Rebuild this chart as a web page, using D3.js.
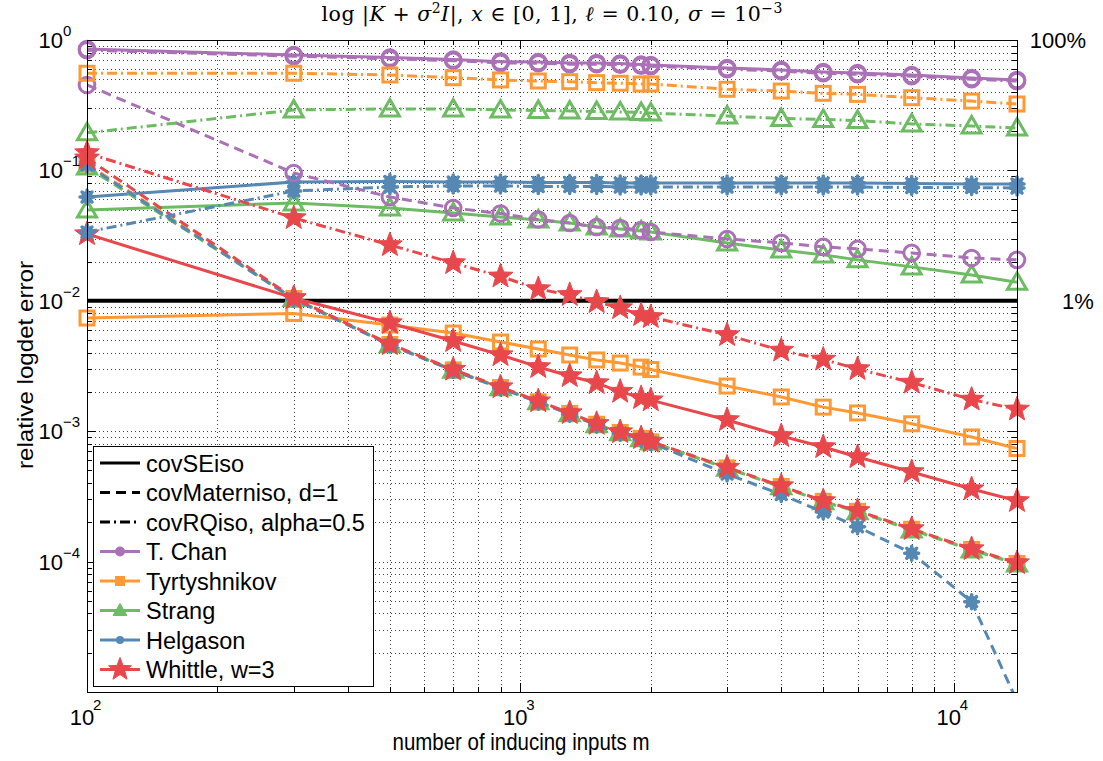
<!DOCTYPE html>
<html><head><meta charset="utf-8">
<script src="https://cdn.jsdelivr.net/npm/d3@7"></script>
<style>body{margin:0;background:#fff}</style>
</head><body>
<svg id="c" width="1103" height="761"></svg>
<script>
// ---------- data ----------
const m = [100,300,500,700,900,1100,1300,1500,1700,1900,2000,3000,4000,5000,6000,8000,11000,14000];
const methods = ["T. Chan","Tyrtyshnikov","Strang","Helgason","Whittle, w=3"];
const kernels = ["covSEiso","covMaterniso, d=1","covRQiso, alpha=0.5"];

const tchanSE  = [0.853,0.767,0.734,0.709,0.682,0.678,0.667,0.667,0.660,0.649,0.643,0.610,0.589,0.568,0.558,0.539,0.511,0.494];
const tchanMat = [0.452,0.0955,0.0625,0.0515,0.0467,0.0420,0.0395,0.0368,0.0362,0.0349,0.0337,0.0298,0.0278,0.0259,0.0250,0.0233,0.0213,0.0206];
const tchanRQ  = [0.835,0.752,0.718,0.694,0.668,0.664,0.652,0.652,0.646,0.635,0.629,0.597,0.577,0.556,0.546,0.528,0.500,0.484];

const tyrtSE  = [0.00738,0.00800,0.00652,0.00566,0.00483,0.00427,0.00384,0.00352,0.00333,0.00310,0.00297,0.00222,0.00183,0.00153,0.00138,0.00114,0.000903,0.000737];
const tyrtMat = [0.112,0.0104,0.00462,0.00295,0.00216,0.00168,0.00137,0.00113,0.000978,0.000880,0.000828,0.000523,0.000377,0.000290,0.000243,0.000177,0.000124,0.0000968];
const tyrtRQ  = [0.556,0.556,0.539,0.514,0.494,0.485,0.479,0.471,0.466,0.460,0.460,0.419,0.406,0.390,0.383,0.361,0.340,0.323];

const strangSE  = [0.0497,0.0562,0.0515,0.0471,0.0439,0.0417,0.0395,0.0368,0.0356,0.0343,0.0337,0.0278,0.0245,0.0225,0.0206,0.0182,0.0158,0.0139];
const strangMat = [0.106,0.0104,0.00460,0.00294,0.00215,0.00168,0.00136,0.00112,0.000975,0.000877,0.000825,0.000520,0.000375,0.000288,0.000241,0.000175,0.000123,0.0000960];
const strangRQ  = [0.194,0.291,0.296,0.296,0.291,0.288,0.286,0.283,0.281,0.278,0.275,0.261,0.250,0.246,0.241,0.227,0.219,0.211];

const helgSE  = [0.0625,0.0815,0.0822,0.0815,0.0815,0.0808,0.0808,0.0808,0.0800,0.0800,0.0800,0.0800,0.0800,0.0800,0.0800,0.0794,0.0787,0.0787];
const helgMat = [0.110,0.0103,0.00458,0.00292,0.00214,0.00167,0.00135,0.00111,0.000965,0.000865,0.000815,0.000470,0.000327,0.000240,0.000185,0.000116,0.0000493,0.0000085];
const helgRQ  = [0.0337,0.0695,0.0746,0.0760,0.0760,0.0753,0.0753,0.0753,0.0746,0.0746,0.0746,0.0746,0.0746,0.0746,0.0746,0.0739,0.0739,0.0733];

const whitSE  = [0.0325,0.0105,0.00676,0.00492,0.00384,0.00311,0.00265,0.00234,0.00201,0.00180,0.00173,0.00122,0.000919,0.000757,0.000634,0.000487,0.000360,0.000292];
const whitMat = [0.124,0.0105,0.00466,0.00297,0.00218,0.00170,0.00138,0.00114,0.000986,0.000887,0.000834,0.000527,0.000380,0.000292,0.000245,0.000178,0.000125,0.0000976];
const whitRQ  = [0.136,0.0432,0.0268,0.0195,0.0154,0.0123,0.0111,0.00980,0.00881,0.00778,0.00752,0.00547,0.00416,0.00355,0.00300,0.00236,0.00175,0.00147];

const seriesByKernel = [
  [tchanSE, tyrtSE, strangSE, helgSE, whitSE],
  [tchanMat, tyrtMat, strangMat, helgMat, whitMat],
  [tchanRQ, tyrtRQ, strangRQ, helgRQ, whitRQ]
];
const xTickLabels = [{v:100,e:"2"},{v:1000,e:"3"},{v:10000,e:"4"}];
const yTickLabels = [{v:1,e:"0"},{v:0.1,e:"\u22121"},{v:0.01,e:"\u22122"},{v:0.001,e:"\u22123"},{v:0.0001,e:"\u22124"}];
const refLevel = 0.01;
const rightLabels = [{v:1,t:"100%"},{v:0.01,t:"1%"}];

// ---------- styles ----------
const colors = ["#ab71b7","#ff9933","#6dbb62","#5688b4","#e8484c"];
const markers = ["circle","square","triangle","helg","star"];
const dashes = [null, "10,6", "10,4,2,4"];
const FONT = "'Liberation Sans', Arial, Helvetica, sans-serif";

// ---------- scales ----------
const svg = d3.select("#c");
const x = d3.scaleLog().domain([100,14000]).range([87,1017]);
const y = d3.scaleLog().domain([1e-5,1]).range([692,40]);
const [X0,X1] = x.range(); const [Y0,Y1] = y.range();

svg.append("rect").attr("width",1103).attr("height",761).attr("fill","#fff");

// grid + ticks
function logTicks(lo, hi){ const t=[]; for(let d=Math.floor(Math.log10(lo)); d<=Math.ceil(Math.log10(hi)); d++){ for(let k=1;k<=9;k++){ const v=k*Math.pow(10,d); if(v>=lo*0.9999 && v<=hi*1.0001) t.push({v, major:k===1}); } } return t; }
const xt = logTicks(100,14000), yt = logTicks(1e-5,1);
const grid = svg.append("g").attr("stroke","#444").attr("stroke-width",1).attr("stroke-dasharray","1,3");
xt.filter(t=>t.v>100.01).forEach(t=>{ const px=Math.round(x(t.v))+0.5; grid.append("line").attr("x1",px).attr("x2",px).attr("y1",Y1).attr("y2",Y0); });
yt.filter(t=>t.v>1.0001e-5 && t.v<0.9999).forEach(t=>{ const py=Math.round(y(t.v))+0.5; grid.append("line").attr("x1",X0).attr("x2",X1).attr("y1",py).attr("y2",py); });

const tk = svg.append("g").attr("stroke","#000").attr("stroke-width",1);
xt.forEach(t=>{ const px=Math.round(x(t.v))+0.5, L=t.major?9:5;
  tk.append("line").attr("x1",px).attr("x2",px).attr("y1",Y0).attr("y2",Y0-L);
  tk.append("line").attr("x1",px).attr("x2",px).attr("y1",Y1).attr("y2",Y1+L); });
yt.forEach(t=>{ const py=Math.round(y(t.v))+0.5, L=t.major?9:5;
  tk.append("line").attr("x1",X0).attr("x2",X0+L).attr("y1",py).attr("y2",py);
  tk.append("line").attr("x1",X1).attr("x2",X1-L).attr("y1",py).attr("y2",py); });

// reference line (covSEiso 1%)
svg.append("line").attr("x1",X0).attr("x2",X1).attr("y1",y(refLevel)).attr("y2",y(refLevel)).attr("stroke","#000").attr("stroke-width",4);

// clip
svg.append("clipPath").attr("id","clip").append("rect").attr("x",X0).attr("y",Y1).attr("width",X1-X0).attr("height",Y0-Y1);

function starPath(R, r){ let p=""; for(let i=0;i<10;i++){ const a=-Math.PI/2+i*Math.PI/5, rr=i%2?r:R; p+=(i?"L":"M")+(rr*Math.cos(a)).toFixed(2)+","+(rr*Math.sin(a)).toFixed(2);} return p+"Z"; }
function drawMarker(g, type, cx, cy, col, legend){
  const s = g.append("g").attr("transform",`translate(${cx},${cy})`);
  if(type==="circle"){
    if(legend) s.append("circle").attr("r",5).attr("fill",col);
    else s.append("circle").attr("r",7.8).attr("fill","none").attr("stroke",col).attr("stroke-width",3);
  } else if(type==="square"){
    const h = legend?4.5:7;
    s.append("rect").attr("x",-h).attr("y",-h).attr("width",2*h).attr("height",2*h)
     .attr("fill",legend?col:"none").attr("stroke",col).attr("stroke-width",legend?1:3);
  } else if(type==="triangle"){
    const R = legend?8:11;
    const p = d3.range(3).map(i=>{const a=-Math.PI/2+i*2*Math.PI/3; return [R*Math.cos(a), R*Math.sin(a)+ (legend?1:1.5)];});
    s.append("path").attr("d","M"+p.map(q=>q.join(",")).join("L")+"Z")
     .attr("fill",legend?col:"none").attr("stroke",col).attr("stroke-width",legend?1:3).attr("stroke-linejoin","miter");
  } else if(type==="helg"){
    if(legend){ s.append("circle").attr("r",4).attr("fill",col); }
    else {
      s.append("circle").attr("r",6).attr("fill",col);
      let d=""; for(let i=0;i<4;i++){const a=i*Math.PI/4; d+=`M${(-7*Math.cos(a)).toFixed(2)},${(-7*Math.sin(a)).toFixed(2)}L${(7*Math.cos(a)).toFixed(2)},${(7*Math.sin(a)).toFixed(2)}`;}
      s.append("path").attr("d",d).attr("stroke",col).attr("stroke-width",3.5).attr("stroke-linecap","round");
    }
  } else if(type==="star"){
    const R = legend?12:13;
    s.append("path").attr("d",starPath(R,R*0.42)).attr("fill",col).attr("stroke",col).attr("stroke-width",1).attr("stroke-linejoin","round");
  }
}

// data
const line = d3.line().x(d=>x(d[0])).y(d=>y(d[1]));
const plot = svg.append("g");
seriesByKernel.forEach((row, k)=>{
  row.forEach((vals, j)=>{
    const pts = m.map((mm,i)=>[mm, vals[i]]);
    const g = plot.append("g");
    g.append("path").attr("d",line(pts)).attr("clip-path","url(#clip)")
      .attr("fill","none").attr("stroke",colors[j]).attr("stroke-width",3)
      .attr("stroke-linejoin","round")
      .attr("stroke-dasharray",dashes[k]);
    pts.forEach(p=>{ if(p[1]>=1e-5 && p[1]<=1) drawMarker(g, markers[j], x(p[0]), y(p[1]), colors[j], false); });
  });
});

// axes box
svg.append("rect").attr("x",X0+0.5).attr("y",Y1+0.5).attr("width",X1-X0).attr("height",Y0-Y1)
  .attr("fill","none").attr("stroke","#000").attr("stroke-width",1);

// tick labels
xTickLabels.forEach(t=>{
  const px = x(t.v);
  svg.append("text").attr("x",px-5).attr("y",725).attr("text-anchor","middle").attr("font-family",FONT).attr("font-size",22).text("10");
  svg.append("text").attr("x",px+6).attr("y",710).attr("font-family",FONT).attr("font-size",15).text(t.e);
});
yTickLabels.forEach(t=>{
  const py = y(t.v);
  svg.append("text").attr("x",63).attr("y",py+8).attr("text-anchor","end").attr("font-family",FONT).attr("font-size",22).text("10");
  svg.append("text").attr("x",63).attr("y",py-4).attr("font-family",FONT).attr("font-size",15).text(t.e);
});
rightLabels.forEach(t=>{
  svg.append("text").attr("x",t.t==="1%"?1078:1058).attr("y",y(t.v)+8).attr("text-anchor","middle")
    .attr("font-family",FONT).attr("font-size",22).text(t.t);
});

// axis titles
svg.append("text").attr("x",521).attr("y",750).attr("text-anchor","middle").attr("font-family",FONT)
  .attr("font-size",24).attr("textLength",257).attr("lengthAdjust","spacingAndGlyphs").text("number of inducing inputs m");
svg.append("text").attr("transform","translate(33,365) rotate(-90)").attr("text-anchor","middle").attr("font-family",FONT)
  .attr("font-size",22).attr("textLength",208).attr("lengthAdjust","spacingAndGlyphs").text("relative logdet error");

// title
const segs = [["log |"],["K","i"],[" + "],["\u03C3","i"],["2","s"],["I","i"],["|, "],["x","i"],[" \u2208 [0, 1], "],["\u2113","i"],[" = 0.10, "],["\u03C3","i"],[" = 10"],["\u22123","s"]];
const title = svg.append("text").attr("x",552).attr("y",21).attr("text-anchor","middle")
  .attr("font-family","'DejaVu Serif',serif").attr("font-size",20.5).attr("fill","#000")
  .attr("textLength",461).attr("lengthAdjust","spacing");
let raised=false;
segs.forEach(s=>{
  const ts = title.append("tspan").text(s[0]);
  if(s[1]==="i") ts.attr("font-style","italic");
  if(s[1]==="s"){ ts.attr("font-size",14).attr("dy",-8); raised=true; }
  else if(raised){ ts.attr("dy",8); raised=false; }
});

// legend
const lg = svg.append("g");
lg.append("rect").attr("x",93.5).attr("y",446.5).attr("width",280).attr("height",240).attr("fill","#fff").attr("stroke","#000").attr("stroke-width",1);
const entries = kernels.map((k,i)=>({label:k, color:"#000", dash:dashes[i], marker:null}))
  .concat(methods.map((mm,j)=>({label:mm, color:colors[j], dash:null, marker:markers[j]})));
entries.forEach((e,i)=>{
  const cy = 463 + i*29.5;
  lg.append("line").attr("x1",100).attr("x2",140).attr("y1",cy).attr("y2",cy).attr("stroke",e.color).attr("stroke-width",3).attr("stroke-dasharray",e.dash);
  if(e.marker) drawMarker(lg, e.marker, 120, cy, e.color, true);
  lg.append("text").attr("x",146).attr("y",cy+8.5).attr("font-family",FONT).attr("font-size",23.5).text(e.label);
});
</script>
</body></html>
